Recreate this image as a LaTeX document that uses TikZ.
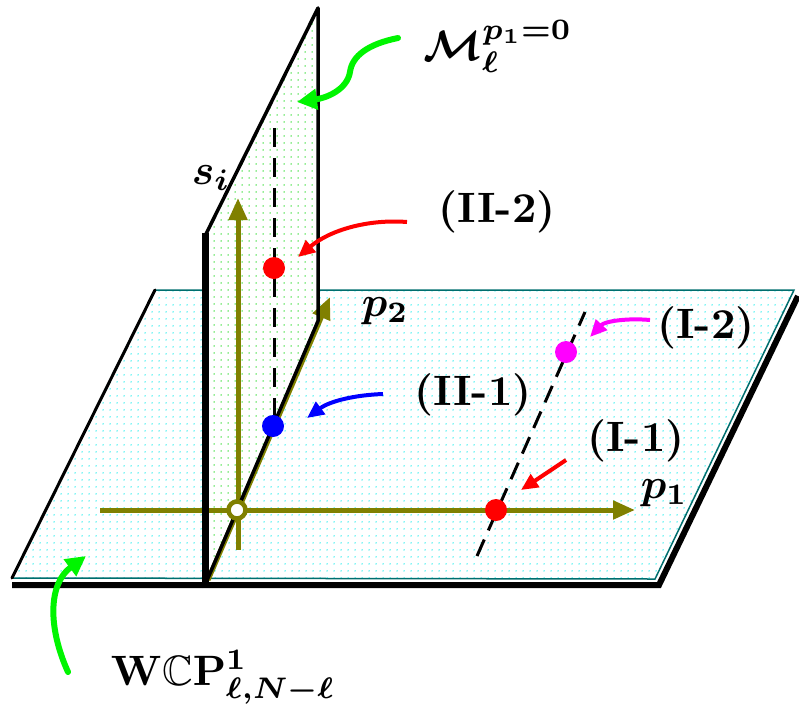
\documentclass[tikz,border=0pt]{standalone}
\usepackage{amsmath,amssymb}
\usetikzlibrary{arrows.meta,patterns.meta}
\definecolor{brightgreen}{RGB}{0,245,0}
\definecolor{dotgreen}{RGB}{40,220,40}
\definecolor{dotcyan}{RGB}{0,235,235}
\definecolor{edgeteal}{RGB}{0,110,110}
\definecolor{pmagenta}{RGB}{255,0,255}
\definecolor{pred}{RGB}{255,0,0}
\definecolor{pblue}{RGB}{0,0,255}
\definecolor{polive}{RGB}{128,128,0}
\begin{document}
\begin{tikzpicture}[x=1pt,y=-1pt,
  lab/.style={font=\boldmath\bfseries, scale=4.25, inner sep=0pt},
  axisarrow/.style={polive, line width=5pt, -{Triangle[length=22pt,width=18pt]}},
  bigarrow/.style={brightgreen, line width=6pt, line cap=round, -{Triangle[length=20pt,width=20pt]}},
  smallarrow/.style={line width=4pt, -{Triangle[length=17pt,width=15pt]}},
  dot/.style={circle, inner sep=0pt, minimum size=22pt},
  dashline/.style={line width=3pt, dash pattern=on 18pt off 10pt},
  hdots/.style={pattern={Dots[distance=6.5pt,radius=0.8pt]}, pattern color=dotcyan},
  vdots/.style={pattern={Dots[distance=6.5pt,radius=0.8pt]}, pattern color=dotgreen}]
\useasboundingbox (0,0) rectangle (799,707);

% horizontal plane
\coordinate (hA) at (12,578);
\coordinate (hB) at (155,290);
\coordinate (hC) at (794,290);
\coordinate (hD) at (655,579);
\draw[line width=6pt, miter limit=10] (12,585) -- (659,585) -- (798,296);
\fill[white] (hA) -- (hB) -- (hC) -- (hD) -- cycle;
\fill[hdots] (hA) -- (hB) -- (hC) -- (hD) -- cycle;
\draw[edgeteal, line width=1.5pt] (hA) -- (hB) -- (hC) -- (hD) -- cycle;
\draw[line width=3pt, line cap=round] (hA) -- (hB);

% dashed line through I points
\coordinate (dI1) at (477,556);
\coordinate (dI2) at (585,312);
\draw[dashline] (dI1) -- (dI2);

% vertical plane
\coordinate (vA) at (205,585);
\coordinate (vB) at (205,233);
\coordinate (vC) at (318,8);
\coordinate (vD) at (318,321);
\fill[white] (vA) -- (vB) -- (vC) -- (vD) -- cycle;
\fill[vdots] (vA) -- (vB) -- (vC) -- (vD) -- cycle;
\coordinate (dV1) at (274,128);
\coordinate (dV2) at (274,416);
\draw[dashline, dash pattern=on 19pt off 11pt] (dV1) -- (dV2);

% axes
\coordinate (o) at (237,510);
\coordinate (p1s) at (100,510);
\coordinate (p1e) at (635,510);
\coordinate (sis) at (238,550);
\coordinate (sie) at (238,198);
\coordinate (p2s) at (208,580);
\coordinate (p2e) at (330,297);
\draw[axisarrow] (p1s) -- (p1e);
\draw[axisarrow] (sis) -- (sie);
\draw[axisarrow] (p2s) -- (p2e);

% vertical plane edges
\draw[line width=7pt] (205,588) -- (vB);
\draw[line width=3.5pt, line join=round] (205,236) -- (vC) -- (vD) -- (vA);

% origin
\node[circle, draw=polive, line width=4.5pt, fill=white, minimum size=17pt, inner sep=0pt] (origin) at (o) {};

% points
\node[dot, fill=pred] (II2) at (274,268) {};
\node[dot, fill=pblue] (II1) at (273,426) {};
\node[dot, fill=pmagenta] (I2) at (566,352) {};
\node[dot, fill=pred] (I1) at (496,510) {};

% labels
\node[lab, anchor=base west] (Mlab) at (423,60) {$\mathcal{M}_\ell^{p_1=0}$};
\node[lab, anchor=base west] (silab) at (191,184) {$s_i$};
\node[lab, anchor=base west] (p2lab) at (361,316) {$p_2$};
\node[lab, anchor=base west] (p1lab) at (640,498) {$p_1$};
\node[lab] (II2lab) at (497,212) {(II-2)};
\node[lab] (I2lab) at (706,328) {(I-2)};
\node[lab] (II1lab) at (473,395) {(II-1)};
\node[lab] (I1lab) at (636,441) {(I-1)};
\node[lab, anchor=base west] (wlab) at (110,685) {$\mathbf{W}\mathbb{C}\mathbf{P}^1_{\ell,N-\ell}$};

% arrows
\coordinate (aM1) at (398,38);
\coordinate (aM2) at (297,102);
\draw[bigarrow] (aM1) .. controls (368,44) and (352,56) .. (350,72) .. controls (347,90) and (326,98) .. (aM2);
\coordinate (aW1) at (68,672);
\coordinate (aW2) at (86,556);
\draw[bigarrow] (aW1) .. controls (48,628) and (48,584) .. (aW2);
\coordinate (aII2a) at (407,222);
\coordinate (aII2b) at (298,257);
\draw[smallarrow, pred] (aII2a) .. controls (368,219) and (330,230) .. (aII2b);
\coordinate (aII1a) at (383,394);
\coordinate (aII1b) at (307,418);
\draw[smallarrow, pblue] (aII1a) .. controls (355,395) and (330,401) .. (aII1b);
\coordinate (aI2a) at (650,320);
\coordinate (aI2b) at (590,337);
\draw[smallarrow, pmagenta] (aI2a) .. controls (628,318) and (605,321) .. (aI2b);
\coordinate (aI1a) at (566,460);
\coordinate (aI1b) at (521,490);
\draw[smallarrow, pred] (aI1a) -- (aI1b);
\end{tikzpicture}
\end{document}
